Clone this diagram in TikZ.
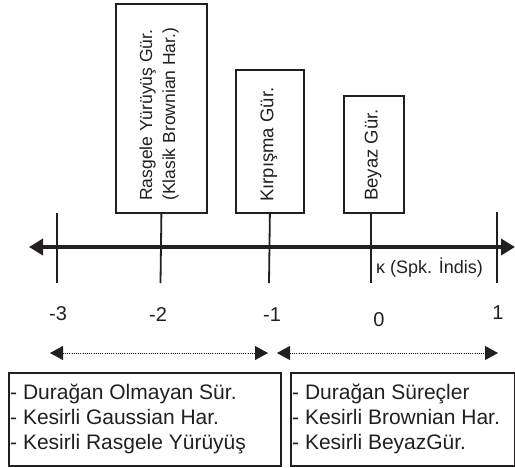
\documentclass[tikz,border=0pt]{standalone}
\usepackage{fontspec}
\setmainfont{Liberation Sans}
\usetikzlibrary{arrows.meta}
\definecolor{ink}{HTML}{231F20}
\begin{document}
\begin{tikzpicture}[x=1pt,y=-1pt,
  vbox/.style={draw=ink,line width=1.8pt,inner sep=0pt},
  vtext/.style={text=ink,rotate=90,anchor=west,inner sep=0pt,align=left,
     font=\fontsize{18.5}{23}\selectfont},
  lbox/.style={draw=ink,line width=1.5pt,inner sep=0pt,anchor=north west},
  ltext/.style={text=ink,inner sep=0pt,align=left,anchor=west,
     font=\fontsize{21}{25}\selectfont},
  tick/.style={draw=ink,line width=1.8pt},
  num/.style={text=ink,font=\fontsize{20}{20}\selectfont,inner sep=0pt},
  bigtip/.tip={Triangle[length=14pt,width=16pt]},
  smalltip/.tip={Triangle[length=13pt,width=14pt]}
]
\useasboundingbox (0,0) rectangle (515,467);
% vertical boxes
\node[vbox,minimum width=91pt,minimum height=209pt,anchor=north west] (b1) at (115,3) {};
\node[vtext,font=\fontsize{17.5}{23}\selectfont] (b1t) at (159,201) {Rasgele Yürüyüş Gür.\\(Klasik Brownian Har.)};
\node[vbox,minimum width=68pt,minimum height=143pt,anchor=north west] (b2) at (235,69) {};
\node[vtext] (b2t) at (269,202) {Kırpışma Gür.};
\node[vbox,minimum width=60pt,minimum height=117pt,anchor=north west] (b3) at (343,95) {};
\node[vtext] (b3t) at (373,201) {Beyaz Gür.};
% axis
\coordinate (L) at (29,247);
\coordinate (R) at (515,247);
\draw[draw=ink,fill=ink,line width=3.5pt,bigtip-bigtip] (L) -- (R);
% ticks
\coordinate (t1a) at (57,213);
\coordinate (t1b) at (57,283);
\coordinate (t2b) at (160.5,283);
\coordinate (t3b) at (269,283);
\coordinate (t4b) at (371,283);
\coordinate (t5a) at (497,212);
\coordinate (t5b) at (497,283);
\draw[tick] (t1a) -- (t1b);
\draw[tick] (b1.south) -- (t2b);
\draw[tick] (b2.south) -- (t3b);
\draw[tick] (b3.south -| t4b) -- (t4b);
\draw[tick] (t5a) -- (t5b);
% labels
\node[text=ink,font=\fontsize{18}{18}\selectfont,inner sep=0pt,anchor=west] (kappa) at (376,268) {κ (Spk. İndis)};
\node[num] (n1) at (58,314) {-3};
\node[num] (n2) at (158,315) {-2};
\node[num] (n3) at (272,315) {-1};
\node[num] (n4) at (379,320) {0};
\node[num] (n5) at (498,313) {1};
% dotted arrows
\coordinate (d1a) at (50,353);
\coordinate (d1b) at (268,353);
\coordinate (d2a) at (277,353);
\coordinate (d2b) at (498,353);
\draw[draw=ink,fill=ink,line width=0.8pt,dash pattern=on 0.8pt off 1.4pt,smalltip-smalltip] (d1a) -- (d1b);
\draw[draw=ink,fill=ink,line width=0.8pt,dash pattern=on 0.8pt off 1.4pt,smalltip-smalltip] (d2a) -- (d2b);
% bottom boxes
\node[lbox,minimum width=272pt,minimum height=93pt] (lb) at (8,372) {};
\node[ltext] (lbt) at (10,419) {- Durağan Olmayan Sür.\\- Kesirli Gaussian Har.\\- Kesirli Rasgele Yürüyüş};
\node[lbox,minimum width=224pt,minimum height=93pt] (rb) at (290,372) {};
\node[ltext] (rbt) at (292,419) {- Durağan Süreçler\\- Kesirli Brownian Har.\\- Kesirli BeyazGür.};
\end{tikzpicture}
\end{document}
